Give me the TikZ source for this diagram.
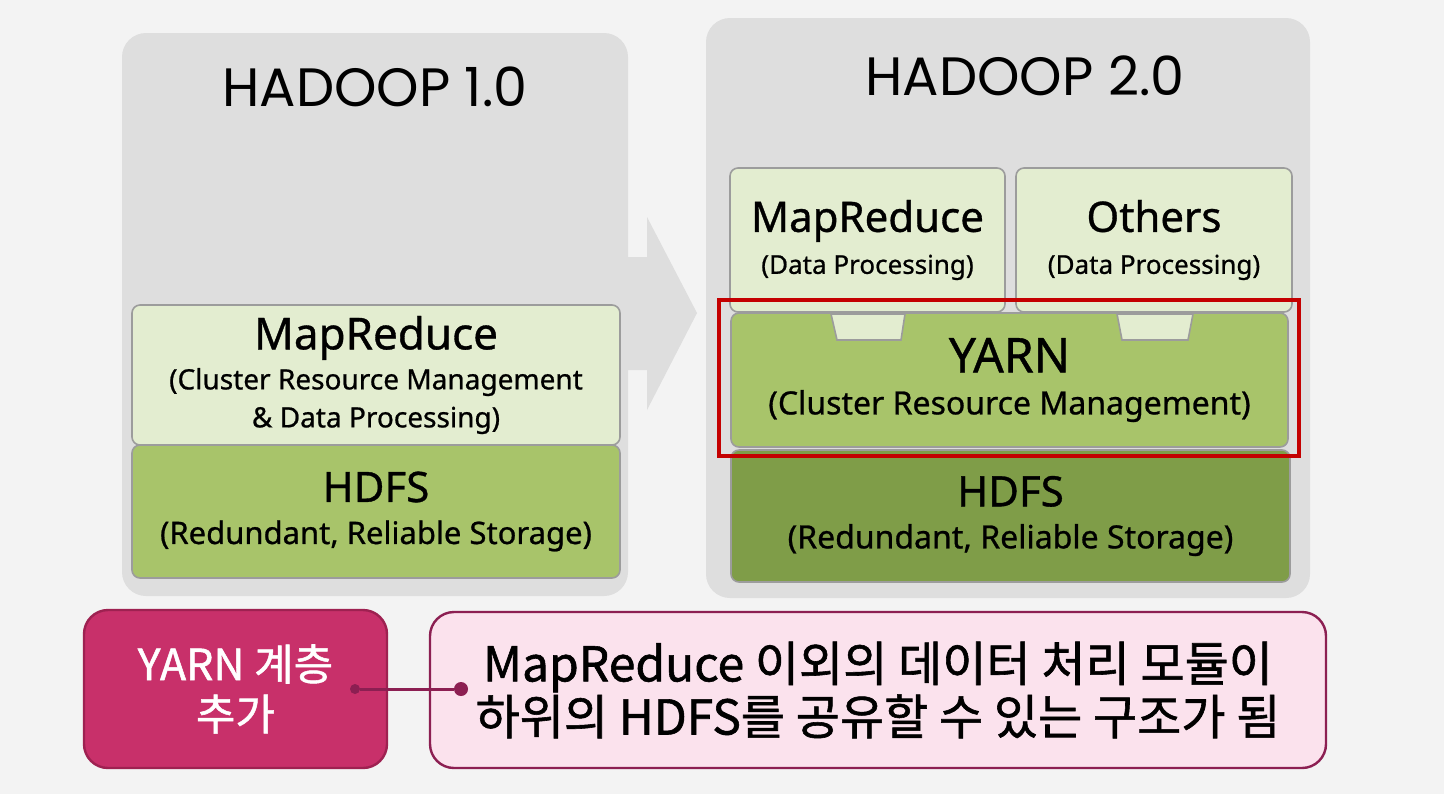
\documentclass[tikz,border=0pt]{standalone}
\usepackage{fontspec}
\setmainfont{Noto Sans}[FakeBold=0.8]
\newfontfamily\krfont{Noto Sans CJK KR}[FakeBold=1.2]
\newfontfamily\titlefont{Poppins}
\usetikzlibrary{calc, positioning}
\definecolor{pagebg}{HTML}{F3F3F3}
\definecolor{panelgray}{HTML}{DEDEDE}
\definecolor{paleleaf}{HTML}{E3EDD0}
\definecolor{leaf}{HTML}{A8C46A}
\definecolor{darkleaf}{HTML}{7F9D48}
\definecolor{layerline}{HTML}{9C9C9C}
\definecolor{hotred}{HTML}{C40000}
\definecolor{berry}{HTML}{C8306A}
\definecolor{berryline}{HTML}{9E2151}
\definecolor{blush}{HTML}{FBE2ED}
\definecolor{plum}{HTML}{8C1F52}

\begin{document}
\begin{tikzpicture}[x=0.5pt, y=-0.5pt,% 1 unit = 1 px of the slide
       wh/.style 2 args = {minimum width=#1, minimum height=#2},
    panel/.style = {fill=panelgray, rounded corners=12pt, inner sep=0pt},
    layer/.style = {draw=layerline, line width=0.8pt, rounded corners=4pt,
                    inner sep=0pt, align=center, text=black,
                    font=\fontsize{14}{19}\selectfont},
      tab/.style = {draw=layerline, line width=0.8pt, fill=paleleaf},
     tag/.style  = {rounded corners=12pt, line width=1.2pt, align=center},
   joint/.style  = {circle, fill=plum, inner sep=0pt, minimum size=6pt},
    link/.style  = {plum, line width=1.5pt}
                    ]
	% page
	\useasboundingbox (0,0) rectangle (1444,794);
	\fill[pagebg] (0,0) rectangle (1444,794);

	% big grey arrow between the two panels
	\fill[panelgray] (600,257) -- (647,257) -- (647,217) -- (697,313)
	                 -- (647,410) -- (647,370) -- (600,370) -- cycle;

	% panels
	\node[panel, wh={253pt}{281.5pt}] (old) at (375,314.5) {};
	\node[panel, wh={302pt}{290pt}]   (new) at (1008,308) {};
	\node[font=\titlefont\fontsize{27}{30}\selectfont] (oldtitle) at (375,87)  {HADOOP 1.0};
	\node[font=\titlefont\fontsize{27}{30}\selectfont] (newtitle) at (1025,76) {HADOOP 2.0};

	% Hadoop 1.0 stack
	\node[layer, fill=paleleaf, wh={244pt}{70pt}] (mr1) at (376,375)
	     {{\fontsize{22}{24}\selectfont MapReduce}\\[1pt]
	      (Cluster Resource Management\\ \& Data Processing)};
	\node[layer, fill=leaf, wh={244pt}{66.5pt}] (hdfs1) at (376,511.5)
	     {{\fontsize{21}{24}\selectfont HDFS}\\[2pt]
	      {\fontsize{15.5}{18}\selectfont (Redundant, Reliable Storage)}};

	% Hadoop 2.0 stack
	\node[layer, fill=paleleaf, wh={137.5pt}{72pt}] (mr2) at (867.5,240)
	     {{\fontsize{21}{24}\selectfont MapReduce}\\[2pt]
	      {\fontsize{13}{16}\selectfont (Data Processing)}};
	\node[layer, fill=paleleaf, wh={138pt}{72pt}] (others) at (1154,240)
	     {{\fontsize{21}{24}\selectfont Others}\\[2pt]
	      {\fontsize{13}{16}\selectfont (Data Processing)}};
	\node[layer, fill=leaf, wh={278.5pt}{67pt}] (yarn) at (1009.5,380)
	     {{\fontsize{24}{26}\selectfont YARN}\\[2pt]
	      {\fontsize{16}{19}\selectfont (Cluster Resource Management)}};
	\node[layer, fill=darkleaf, wh={279.5pt}{66pt}] (hdfs2) at (1010.5,516)
	     {{\fontsize{21}{24}\selectfont HDFS}\\[2pt]
	      {\fontsize{16}{18}\selectfont (Redundant, Reliable Storage)}};

	% plugs of the upper layers into YARN
	\draw[tab] (831,314) -- (905,314) -- (901,340) -- (837,340) -- cycle;
	\draw[tab] (1117,314) -- (1193,314) -- (1188,340) -- (1122,340) -- cycle;

	% highlight
	\draw[hotred, line width=1.6pt] (719,300) rectangle (1299,456);

	% note at the bottom
	\node[tag, draw=berryline, fill=berry, text=white, wh={151.5pt}{79pt},
	      font=\krfont\fontsize{21.5}{25}\selectfont] (added) at (235.5,689)
	     {YARN 계층\\추가};
	\node[tag, draw=plum, fill=blush, wh={448pt}{78pt},
	      font=\krfont\fontsize{24}{25}\selectfont] (remark) at (878,690)
	     {MapReduce 이외의 데이터 처리 모듈이\\하위의 HDFS를 공유할 수 있는 구조가 됨};
	\node[joint, minimum size=5pt] (jl) at (355,689) {};
	\node[joint, minimum size=7pt] (jr) at (461,689) {};
	\draw[link] (jl) -- (jr);
\end{tikzpicture}
\end{document}
